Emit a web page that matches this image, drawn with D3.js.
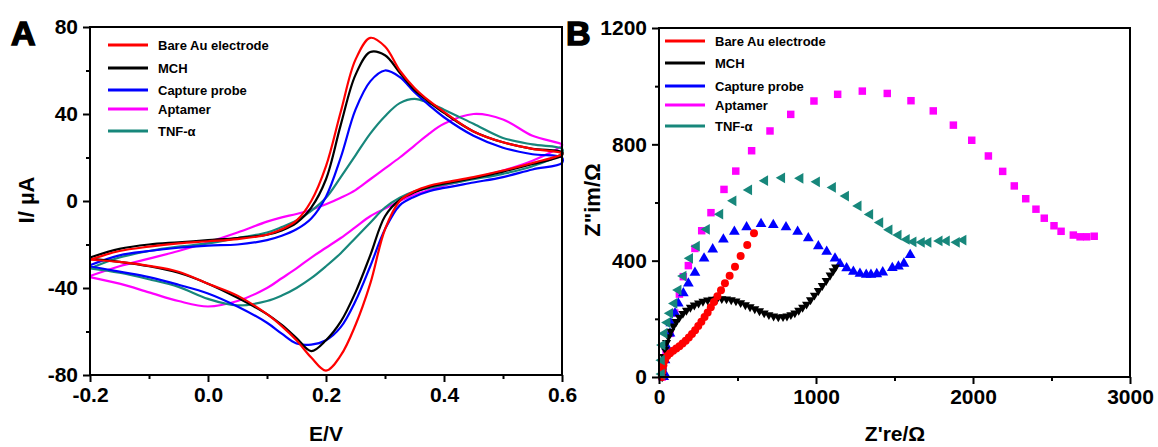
<!DOCTYPE html>
<html>
<head>
<meta charset="utf-8">
<script src="https://cdn.jsdelivr.net/npm/d3@7"></script>
<style>
  body { margin: 0; background: #fff; }
  svg { display: block; font-family: 'Liberation Sans', Arial, sans-serif; font-weight: bold; }
  .axis line { stroke: #000; stroke-width: 2; }
  .axis text { font-size: 21px; font-weight: bold; fill: #000; font-family: 'Liberation Sans', Arial, sans-serif; }
</style>
</head>
<body>
<svg id="chart" width="1158" height="447"></svg>
<script>
// series shared by both panels
const seriesNames = ['Bare Au electrode', 'MCH', 'Capture probe', 'Aptamer', 'TNF-α'];
const seriesColors = ['#ff0000', '#000000', '#0000ff', '#ff00ff', '#17877b'];

// panel A: cyclic voltammograms, forward scan then return scan
const cvForwardE = [-0.2, -0.15, -0.1, -0.05, 0, 0.05, 0.1, 0.125, 0.15, 0.175, 0.2, 0.225, 0.25, 0.275, 0.3, 0.325, 0.35, 0.375, 0.4, 0.45, 0.5, 0.55, 0.6];
const cvReturnE = [0.6, 0.55, 0.5, 0.45, 0.4, 0.375, 0.35, 0.325, 0.3, 0.275, 0.25, 0.225, 0.2, 0.175, 0.15, 0.125, 0.1, 0.05, 0, -0.05, -0.1, -0.15, -0.2];

const cvBareFwd = [-27, -23, -21, -19.5, -18.5, -17.5, -15.5, -13, -9, 0, 16, 41, 65, 75, 71, 60, 52, 46, 41, 32, 27, 24, 22];
const cvBareRet = [21.5, 17.5, 14, 11, 8.5, 7, 4.5, 0, -13, -38, -57, -71, -78, -72, -64, -57.5, -52, -43.5, -38, -32.5, -29.8, -28, -27];
const cvMchFwd = [-26, -22, -20, -19, -18, -17, -15.5, -13.5, -10, -3, 10, 35, 58, 68.5, 67, 59, 51, 45.5, 40.5, 32, 27, 24, 22.5];
const cvMchRet = [21, 17, 13.5, 10.5, 8, 6.5, 4, 0.5, -7, -25, -42, -55.5, -64, -69, -63, -57, -52, -44.5, -38, -33, -30, -28, -26.5];
const cvProbeFwd = [-29.5, -25, -23, -21.5, -20.5, -20, -18, -16, -13, -8, 2, 20, 42, 55, 60, 57, 50, 44, 38.5, 30, 24.5, 21.5, 20];
const cvProbeRet = [17.5, 14.5, 11, 8.5, 6, 4.5, 2, -2, -13, -30, -46, -58, -64, -66, -65.5, -61, -56, -48.5, -42.5, -38.5, -35, -32.5, -30];
const cvAptFwd = [-34.5, -30, -26.5, -23, -19, -14.5, -9.5, -7.5, -6, -4, -1.5, 1.5, 5, 10, 15, 20, 25.5, 31, 35.5, 40, 37.5, 30, 26];
const cvAptRet = [25.5, 18.5, 14, 10.5, 7, 5, 3, 0, -3.5, -7, -12, -17, -21.5, -26, -31, -35.5, -40, -46, -48.5, -46, -42, -38, -35];
const cvTnfFwd = [-31, -26, -23, -21, -19.5, -17, -14.5, -12, -9, -4.5, 1.5, 11, 21, 31, 39, 45, 47, 45, 42, 35.5, 29, 26, 24];
const cvTnfRet = [22, 16, 12.5, 10, 7.5, 6, 4.5, 1.5, -3, -10, -17, -24, -30, -35.5, -40, -43.5, -46, -48, -45, -39.5, -36, -33, -31];

const cvTicksE = [-0.2, 0, 0.2, 0.4, 0.6];
const cvMinorE = [-0.1, 0.1, 0.3, 0.5];
const cvTicksI = [-80, -40, 0, 40, 80];
const cvMinorI = [-60, -20, 20, 60];

// panel B: Nyquist plots [Z're, Z''im]
const eisBare = [[18,0],[22,20],[28,40],[38,58],[52,72],[70,82],[90,90],[110,98],[130,106],[150,115],[170,125],[190,136],[210,148],[230,161],[250,175],[270,190],[290,206],[310,222],[330,240],[350,258],[372,278],[395,298],[420,322],[450,348],[484,379],[520,416],[562,454],[605,494]];
const eisMch = [[20,0],[22,20],[25,45],[30,70],[38,95],[48,118],[60,138],[75,157],[92,175],[110,190],[130,205],[152,218],[175,229],[200,239],[225,247],[252,254],[280,260],[310,264],[340,267],[370,269],[400,269],[430,268],[460,265],[490,261],[520,255],[550,248],[580,241],[610,234],[640,227],[670,220],[700,214],[730,209],[760,206],[790,207],[815,209],[840,214],[865,220],[890,229],[915,239],[940,250],[965,265],[990,281],[1015,297],[1040,314],[1065,331],[1090,350],[1110,365],[1125,378]];
const eisProbe = [[30,0],[38,10],[38,58],[49,104],[70,150],[75,185],[102,219],[123,253],[155,288],[187,322],[229,359],[287,408],[342,439],[410,473],[480,500],[558,515],[650,526],[728,523],[809,515],[883,500],[951,477],[1015,450],[1068,431],[1121,408],[1153,389],[1195,374],[1238,362],[1280,355],[1320,352],[1350,352],[1387,354],[1425,360],[1486,375],[1525,380],[1560,390],[1600,420]];
const eisAptamer = [[20,0],[25,30],[45,90],[70,150],[100,220],[130,285],[155,345],[187,383],[229,442],[272,503],[331,565],[414,645],[489,708],[590,778],[707,846],[839,903],[987,949],[1138,972],[1295,983],[1454,975],[1605,950],[1747,915],[1875,866],[1992,814],[2098,760],[2189,707],[2263,657],[2336,613],[2401,577],[2454,546],[2516,520],[2561,501],[2639,488],[2682,482],[2724,482],[2772,484]];
const eisTnf = [[17,10],[17,58],[21,110],[34,150],[53,187],[70,219],[97,253],[123,299],[155,347],[197,408],[240,450],[304,508],[389,560],[473,606],[573,643],[675,675],[783,685],[900,683],[1005,671],[1107,652],[1190,622],[1270,588],[1344,559],[1408,531],[1467,506],[1525,488],[1577,473],[1620,465],[1673,463],[1715,463],[1786,468],[1832,468],[1896,463],[1938,471]];

const eisTicksX = [0, 1000, 2000, 3000];
const eisMinorX = [500, 1500, 2500];
const eisTicksY = [0, 400, 800, 1200];
const eisMinorY = [200, 600, 1000];

const svg = d3.select('#chart');

function frame(x, y) {
    svg.append('rect')
        .attr('x', x.range()[0])
        .attr('y', y.range()[1])
        .attr('width', x.range()[1] - x.range()[0])
        .attr('height', y.range()[0] - y.range()[1])
        .attr('fill', 'none')
        .attr('stroke', '#000')
        .attr('stroke-width', 2);
}

function axes(x, y, xTicks, xMinor, yTicks, yMinor, xFmt, yFmt) {
    const bottom = y.range()[0];
    const left = x.range()[0];
    const put = (axis, dx, dy) => svg.append('g')
        .attr('class', 'axis')
        .attr('transform', `translate(${dx},${dy})`)
        .call(axis)
        .call(g => g.select('.domain').remove());

    put(d3.axisBottom(x).tickValues(xTicks).tickSize(7).tickPadding(5).tickFormat(xFmt), 0, bottom);
    put(d3.axisBottom(x).tickValues(xMinor).tickSize(4).tickFormat(''), 0, bottom);
    put(d3.axisLeft(y).tickValues(yTicks).tickSize(7).tickPadding(5).tickFormat(yFmt), left, 0);
    put(d3.axisLeft(y).tickValues(yMinor).tickSize(4).tickFormat(''), left, 0);
}

function legend(x0, ys) {
    seriesNames.forEach((name, i) => {
        svg.append('line')
            .attr('x1', x0).attr('x2', x0 + 40)
            .attr('y1', ys[i]).attr('y2', ys[i])
            .attr('stroke', seriesColors[i])
            .attr('stroke-width', 3);
        svg.append('text')
            .attr('x', x0 + 50).attr('y', ys[i])
            .attr('dy', '0.35em')
            .style('font-size', '13px')
            .text(name);
    });
}

function title(txt, x, y, size, rotate) {
    svg.append('text')
        .attr('transform', `translate(${x},${y})` + (rotate ? ' rotate(-90)' : ''))
        .attr('text-anchor', 'middle')
        .style('font-size', size + 'px')
        .text(txt);
}

//**panel A**
const xA = d3.scaleLinear().domain([-0.2, 0.6]).range([90, 562]);
const yA = d3.scaleLinear().domain([-80, 80]).range([375, 27]);

const cvLine = d3.line()
    .x(d => xA(d[0]))
    .y(d => yA(d[1]))
    .curve(d3.curveCatmullRom.alpha(0.5));

const cvSeries = [
    [cvBareFwd, cvBareRet],
    [cvMchFwd, cvMchRet],
    [cvProbeFwd, cvProbeRet],
    [cvAptFwd, cvAptRet],
    [cvTnfFwd, cvTnfRet]
];

// draw order as in the figure: aptamer and TNF below, bare electrode on top
[3, 4, 2, 1, 0].forEach(i => {
    const [fwd, ret] = cvSeries[i];
    const pts = cvForwardE.map((e, k) => [e, fwd[k]])
        .concat(cvReturnE.map((e, k) => [e, ret[k]]));
    svg.append('path')
        .attr('d', cvLine(pts))
        .attr('fill', 'none')
        .attr('stroke', seriesColors[i])
        .attr('stroke-width', 2.2);
});

frame(xA, yA);
axes(xA, yA, cvTicksE, cvMinorE, cvTicksI, cvMinorI, d => d.toFixed(1), d => String(d));
legend(108, [45, 68, 90, 109, 131]);
title('I/ µA', 34, 200, 22, true);
title('E/V', 326, 441, 21, false);

//**panel B**
const xB = d3.scaleLinear().domain([0, 3000]).range([659, 1130]);
const yB = d3.scaleLinear().domain([0, 1200]).range([377, 28]);

const eisSeries = [
    { data: eisBare, shape: d3.symbolCircle, size: 50, rot: 0 },
    { data: eisMch, shape: d3.symbolTriangle, size: 36, rot: 180 },
    { data: eisProbe, shape: d3.symbolTriangle, size: 50, rot: 0 },
    { data: eisAptamer, shape: d3.symbolSquare, size: 56, rot: 0 },
    { data: eisTnf, shape: d3.symbolTriangle, size: 50, rot: -90 }
];

[3, 2, 1, 0, 4].forEach(i => {
    const s = eisSeries[i];
    svg.append('g')
        .attr('fill', seriesColors[i])
        .selectAll('path')
        .data(s.data)
        .join('path')
            .attr('d', d3.symbol().type(s.shape).size(s.size))
            .attr('transform', d => `translate(${xB(d[0])},${yB(d[1])}) rotate(${s.rot})`);
});

frame(xB, yB);
axes(xB, yB, eisTicksX, eisMinorX, eisTicksY, eisMinorY, d => String(d), d => String(d));
legend(665, [41, 63, 86, 105, 126]);
title('Z"im/Ω', 600, 200, 22, true);
title("Z're/Ω", 895, 441, 21, false);

// panel letters
svg.append('text').attr('x', 11).attr('y', 45)
    .style('font-size', '34px').attr('stroke', '#000').attr('stroke-width', 1.5)
    .text('A');
svg.append('text').attr('x', 566).attr('y', 45)
    .style('font-size', '34px').attr('stroke', '#000').attr('stroke-width', 1.5)
    .text('B');
</script>
</body>
</html>
